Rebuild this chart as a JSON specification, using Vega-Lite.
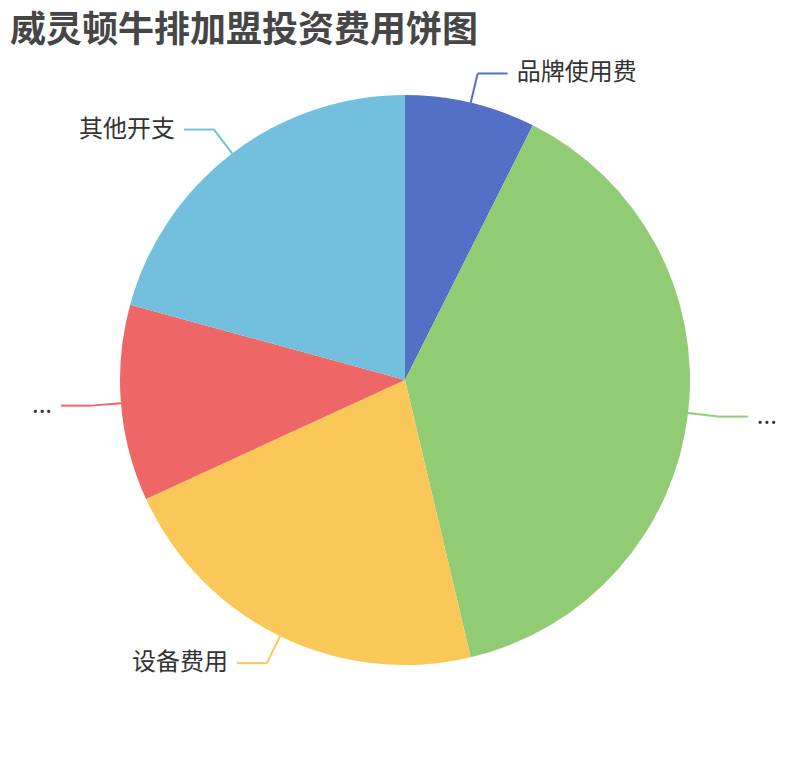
{
  "$schema": "https://vega.github.io/schema/vega-lite/v6.json",
  "width": 810,
  "height": 710,
  "autosize": "none",
  "padding": {"left": 0, "right": 0, "top": 50, "bottom": 0},
  "background": "white",
  "title": {
    "text": "威灵顿牛排加盟投资费用饼图",
    "anchor": "start",
    "frame": "group",
    "font": "Noto Sans CJK SC",
    "fontSize": 36,
    "fontWeight": "bold",
    "color": "#464646",
    "baseline": "top",
    "dx": 10,
    "offset": 0
  },
  "config": {"view": {"stroke": null}},
  "data": {
    "values": [
      {"idx": 1, "name": "品牌使用费", "label": "品牌使用费", "value": 2},
      {"idx": 2, "name": "加盟费", "label": "...", "value": 10.5},
      {"idx": 3, "name": "设备费用", "label": "设备费用", "value": 5.9},
      {"idx": 4, "name": "装修费用", "label": "...", "value": 3},
      {"idx": 5, "name": "其他开支", "label": "其他开支", "value": 5.6}
    ]
  },
  "transform": [
    {"joinaggregate": [{"op": "sum", "field": "value", "as": "total"}]},
    {"window": [{"op": "sum", "field": "value", "as": "cum"}], "sort": [{"field": "idx"}], "frame": [null, 0]},
    {"calculate": "2 * PI * (datum.cum - datum.value / 2) / datum.total", "as": "mid"},
    {"calculate": "sin(datum.mid) >= 0 ? 1 : -1", "as": "side"},
    {"calculate": "285 * sin(datum.mid)", "as": "ex"},
    {"calculate": "285 * cos(datum.mid)", "as": "ey"},
    {"calculate": "315 * sin(datum.mid)", "as": "kx"},
    {"calculate": "315 * cos(datum.mid)", "as": "ky"},
    {"calculate": "datum.kx + 30 * datum.side", "as": "hx"},
    {"calculate": "datum.hx + 9 * datum.side", "as": "tx"}
  ],
  "resolve": {"scale": {"x": "shared", "y": "shared"}},
  "layer": [
    {
      "mark": {"type": "arc", "outerRadius": 285},
      "encoding": {
        "x": {"datum": 0, "type": "quantitative", "scale": {"domain": [-405, 405], "nice": false, "zero": false}, "axis": null},
        "y": {"datum": 0, "type": "quantitative", "scale": {"domain": [-380, 330], "nice": false, "zero": false}, "axis": null},
        "theta": {"field": "value", "type": "quantitative", "stack": true},
        "order": {"field": "idx", "type": "quantitative"},
        "color": {
          "field": "name",
          "type": "nominal",
          "legend": null,
          "scale": {
            "domain": ["品牌使用费", "加盟费", "设备费用", "装修费用", "其他开支"],
            "range": ["#5470c6", "#91cc75", "#fac858", "#ee6666", "#73c0de"]
          }
        }
      }
    },
    {
      "mark": {"type": "rule", "strokeWidth": 2},
      "encoding": {
        "x": {"field": "ex", "type": "quantitative"},
        "y": {"field": "ey", "type": "quantitative"},
        "x2": {"field": "kx"},
        "y2": {"field": "ky"},
        "color": {"field": "name", "type": "nominal", "legend": null}
      }
    },
    {
      "mark": {"type": "rule", "strokeWidth": 2},
      "encoding": {
        "x": {"field": "kx", "type": "quantitative"},
        "y": {"field": "ky", "type": "quantitative"},
        "x2": {"field": "hx"},
        "y2": {"field": "ky"},
        "color": {"field": "name", "type": "nominal", "legend": null}
      }
    },
    {
      "transform": [{"filter": "datum.side > 0"}],
      "mark": {"type": "text", "align": "left", "baseline": "middle", "font": "Noto Sans CJK SC", "fontSize": 24, "color": "#333333"},
      "encoding": {
        "x": {"field": "tx", "type": "quantitative"},
        "y": {"field": "ky", "type": "quantitative"},
        "text": {"field": "label"}
      }
    },
    {
      "transform": [{"filter": "datum.side < 0"}],
      "mark": {"type": "text", "align": "right", "baseline": "middle", "font": "Noto Sans CJK SC", "fontSize": 24, "color": "#333333"},
      "encoding": {
        "x": {"field": "tx", "type": "quantitative"},
        "y": {"field": "ky", "type": "quantitative"},
        "text": {"field": "label"}
      }
    }
  ]
}
